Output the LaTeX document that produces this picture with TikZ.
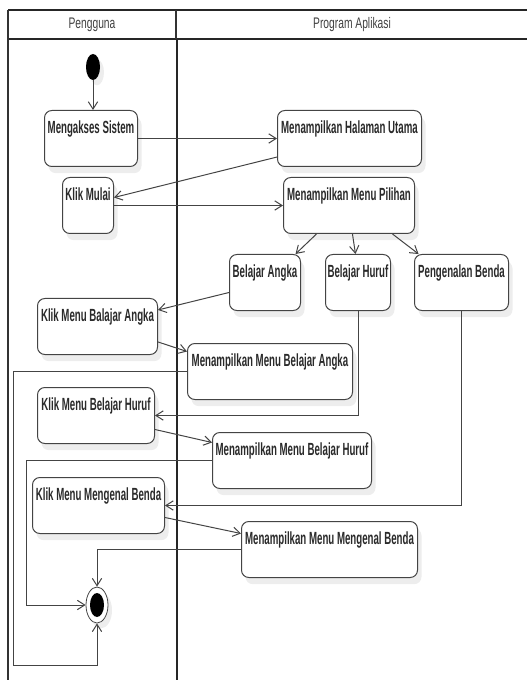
\documentclass[tikz,border=0pt]{standalone}
\usepackage{fontspec}
\setmainfont{Liberation Sans}[FakeStretch=0.67]
\newfontfamily\boxfont{Liberation Sans}[FakeStretch=0.55]
\usetikzlibrary{arrows.meta,shadows,shapes.geometric,calc}
\definecolor{ln}{HTML}{444444}
\definecolor{txt}{HTML}{2a2a2a}
\tikzset{
  lane/.style={line width=1.8pt, black!85},
  act/.style={draw=ln, line width=0.75pt, rounded corners=5.5pt, fill=white,
    text=txt, inner xsep=1pt, inner ysep=2.25pt,
    font=\boxfont\bfseries\fontsize{13.2}{14}\selectfont,
    text height=15.2pt, text depth=22.3pt,
    drop shadow={shadow xshift=3pt, shadow yshift=-5pt, fill=black!14, opacity=0.5}},
  startnode/.style={ellipse, fill=black, minimum width=10.5pt, minimum height=19.5pt, inner sep=0pt,
    drop shadow={shadow xshift=3pt, shadow yshift=-4pt, fill=black!14, opacity=0.5}},
  endouter/.style={ellipse, draw=ln, line width=0.6pt, fill=white, minimum width=16.5pt, minimum height=27pt, inner sep=0pt,
    drop shadow={shadow xshift=3pt, shadow yshift=-4pt, fill=black!14, opacity=0.5}},
  endinner/.style={ellipse, fill=black, minimum width=10.5pt, minimum height=18pt, inner sep=0pt},
  flow/.style={draw=ln, line width=0.75pt, -{Straight Barb[length=5.5pt,width=7pt]}},
  hdr/.style={text=black!75, font=\fontsize{11.5}{12}\selectfont}
}
\newcommand\actnode[5]{\node[act, anchor=north west, minimum width={(#4-#2)*0.75pt}] (#1) at (#2,#3) {#5};}
\begin{document}
\begin{tikzpicture}[x=0.75pt, y=-0.75pt]
\useasboundingbox (0,0) rectangle (527,680);
% swimlanes
\draw[lane] (8,10) -- (527,10);
\draw[lane] (8,39) -- (527,39);
\draw[line width=1.2pt, black!80] (8,10) -- (8,680);
\draw[line width=1pt, black!80] (176,10) -- (176,39);
\draw[line width=2pt, black!85] (177,39) -- (177,680);
\node[hdr] (h1) at (92,25) {Pengguna};
\node[hdr] (h2) at (352,25) {Program Aplikasi};
% nodes
\node[startnode] (init) at (93,67) {};
\actnode{ms}{44}{110}{137}{Mengakses Sistem}
\actnode{hu}{277}{110}{421}{Menampilkan Halaman Utama}
\actnode{km}{62}{177}{113}{Klik Mulai}
\actnode{mp}{283}{177}{414}{Menampilkan Menu Pilihan}
\actnode{ba}{229}{254}{300}{Belajar Angka}
\actnode{bh}{325}{254}{390}{Belajar Huruf}
\actnode{pb}{414}{254}{508}{Pengenalan Benda}
\actnode{kba}{37}{298}{157}{Klik Menu Balajar Angka}
\actnode{mba}{187}{343}{352}{Menampilkan Menu Belajar Angka}
\actnode{kbh}{37}{387}{154}{Klik Menu Belajar Huruf}
\actnode{mbh}{212}{432}{371}{Menampilkan Menu Belajar Huruf}
\actnode{kmb}{32}{477}{164}{Klik Menu Mengenal Benda}
\actnode{mmb}{241}{521}{417}{Menampilkan Menu Mengenal Benda}
\node[endouter] (fin) at (97,605) {};
\node[endinner] (finin) at (fin.center) {};
\coordinate (c1) at (13,665);
\coordinate (c2) at (26,605);
% connectors
\draw[flow] (init.south) -- (init.south |- ms.north);
\draw[flow] (ms.east) -- (hu.west);
\draw[flow] ([yshift=-13.9pt]hu.west) -- ([yshift=6pt]km.east);
\draw[flow] (km.east) -- (mp.west);
\draw[flow] ([xshift=-24.4pt]mp.south) -- ([xshift=22.9pt]ba.north);
\draw[flow] ([xshift=2.6pt]mp.south) -- ([xshift=-1.9pt]bh.north);
\draw[flow] ([xshift=32.6pt]mp.south) -- ([xshift=-32.2pt]pb.north);
\draw[flow] ([yshift=-7.5pt]ba.west) -- ([yshift=12.4pt]kba.east);
\draw[flow] ([yshift=-11.6pt]kba.east) -- ([yshift=15pt]mba.west);
\draw[flow] (mba.west) -| (c1) -| (fin.south);
\draw[flow] (bh.south) |- (kbh.east);
\draw[flow] ([yshift=-10.5pt]kbh.east) -- ([yshift=13.5pt]mbh.west);
\draw[flow] (mbh.west) -| (c2) -- (fin.west);
\draw[flow] (pb.south) |- (kmb.east);
\draw[flow] ([yshift=-9pt]kmb.east) -- ([yshift=12pt]mmb.west);
\draw[flow] (mmb.west) -| (fin.north);
\end{tikzpicture}
\end{document}
